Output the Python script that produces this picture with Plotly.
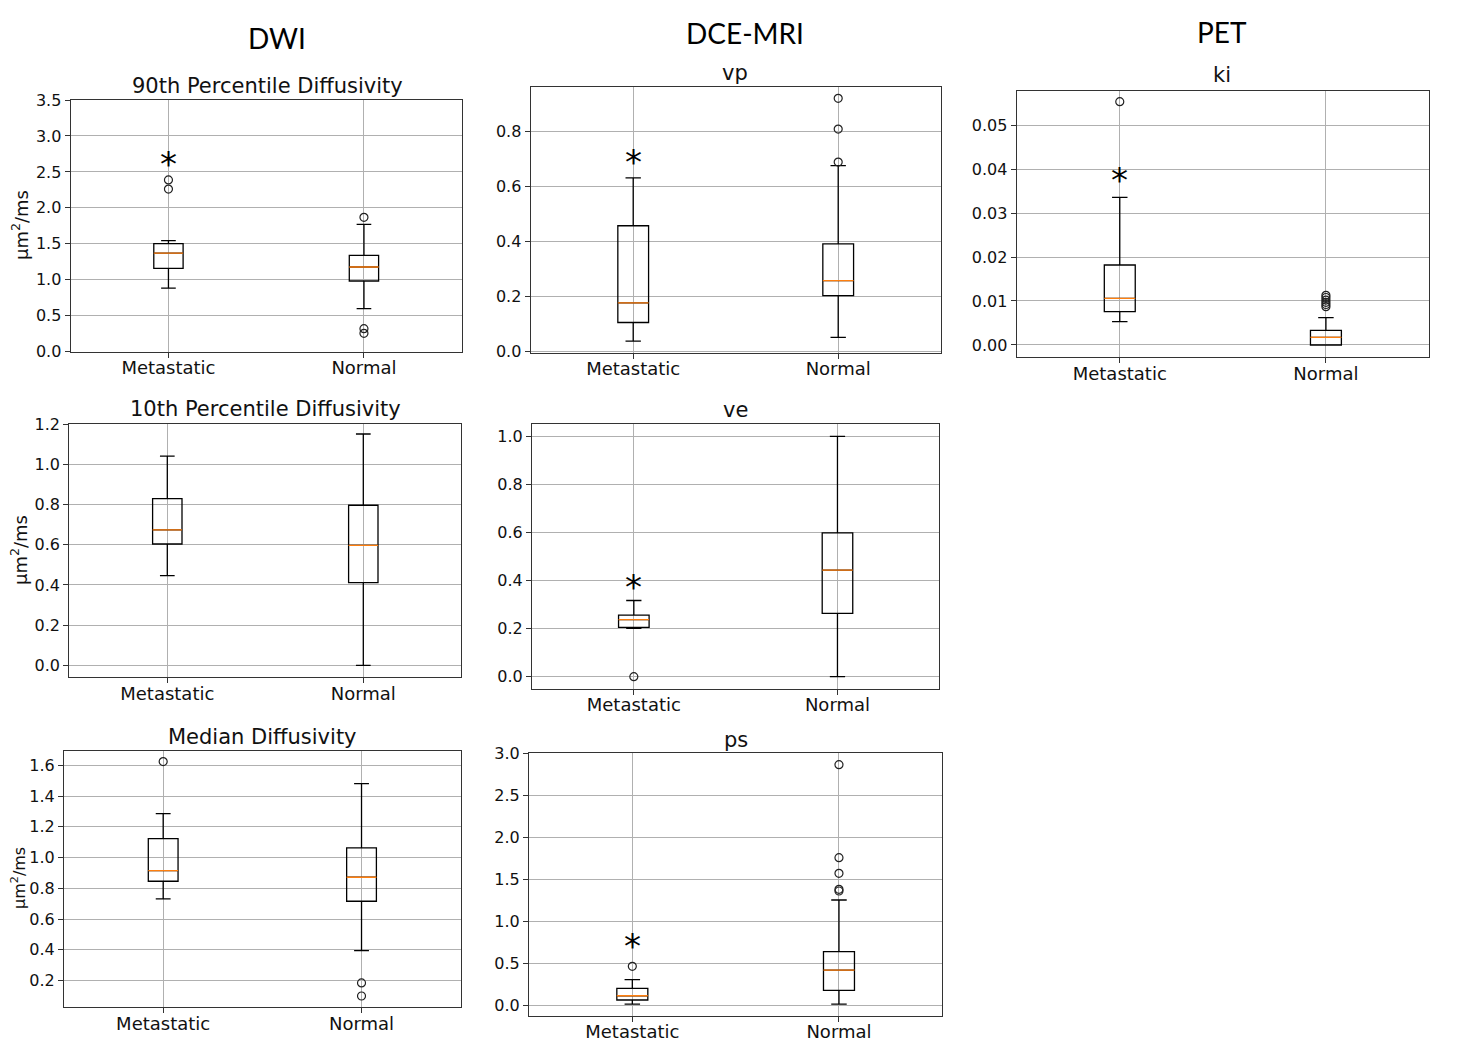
import plotly.graph_objects as go

# Reference picture size and the page's default body margin
REF_W, REF_H = 1481, 1059
OFF = 8
W, H = REF_W - OFF, REF_H - 2 * OFF

categories = ["Metastatic", "Normal"]
positions = [1, 2]

# ---- data ----
p90_lower = [0.885, 0.598]
p90_q1 = [1.159, 0.983]
p90_median = [1.372, 1.178]
p90_q3 = [1.502, 1.340]
p90_upper = [1.544, 1.771]
p90_out_met = [2.262, 2.388]
p90_out_nor = [1.868, 0.320, 0.255]
p90_star = 2.70

p10_lower = [0.4465, 0.0]
p10_q1 = [0.604, 0.4116]
p10_median = [0.674, 0.5975]
p10_q3 = [0.830, 0.797]
p10_upper = [1.042, 1.152]
p10_out_met = []
p10_out_nor = []
p10_star = None

med_lower = [0.731, 0.395]
med_q1 = [0.846, 0.716]
med_median = [0.915, 0.872]
med_q3 = [1.123, 1.063]
med_upper = [1.286, 1.481]
med_out_met = [1.624]
med_out_nor = [0.185, 0.100]
med_star = None

vp_lower = [0.036, 0.050]
vp_q1 = [0.104, 0.2015]
vp_median = [0.175, 0.256]
vp_q3 = [0.456, 0.390]
vp_upper = [0.630, 0.675]
vp_out_met = []
vp_out_nor = [0.688, 0.808, 0.920]
vp_star = 0.711

ve_lower = [0.2008, 0.0]
ve_q1 = [0.205, 0.263]
ve_median = [0.237, 0.443]
ve_q3 = [0.256, 0.598]
ve_upper = [0.317, 1.0]
ve_out_met = [0.0]
ve_out_nor = []
ve_star = 0.40

ps_lower = [0.012, 0.012]
ps_q1 = [0.060, 0.175]
ps_median = [0.111, 0.417]
ps_q3 = [0.199, 0.636]
ps_upper = [0.302, 1.252]
ps_out_met = [0.461]
ps_out_nor = [1.359, 1.379, 1.570, 1.756, 2.865]
ps_star = 0.78

ki_lower = [0.0053, 0.0]
ki_q1 = [0.00758, 0.0]
ki_median = [0.0106, 0.00174]
ki_q3 = [0.01818, 0.00333]
ki_upper = [0.03356, 0.00621]
ki_out_met = [0.0553]
ki_out_nor = [0.0087, 0.0092, 0.0097, 0.0102, 0.0108, 0.0113]
ki_star = 0.0388

# ---- panel layout (reference pixel boxes: left, top, right, bottom) ----
panels = [
    dict(title="90th Percentile Diffusivity", box=(70.7, 100, 461.7, 351.7), yr=[0, 3.5], dtick=0.5, fmt=".1f",
         tick0=0, stats=(p90_lower, p90_q1, p90_median, p90_q3, p90_upper), out=(p90_out_met, p90_out_nor),
         star=p90_star, ylab=(20, 225, 18), tpos=(267, 86)),
    dict(title="10th Percentile Diffusivity", box=(69.3, 424, 461.3, 677.3), yr=[-0.0598, 1.2017], dtick=0.2, fmt=".1f",
         tick0=0, stats=(p10_lower, p10_q1, p10_median, p10_q3, p10_upper), out=(p10_out_met, p10_out_nor),
         star=p10_star, ylab=(19, 550, 18), tpos=(265, 409)),
    dict(title="Median Diffusivity", box=(64, 751, 460.7, 1007.3), yr=[0.0266, 1.693], dtick=0.2, fmt=".1f",
         tick0=0.2, stats=(med_lower, med_q1, med_median, med_q3, med_upper), out=(med_out_met, med_out_nor),
         star=med_star, ylab=(18, 878, 16), tpos=(262, 737)),
    dict(title="vp", box=(530.7, 87.3, 940.7, 352.7), yr=[-0.006, 0.96], dtick=0.2, fmt=".1f",
         tick0=0, stats=(vp_lower, vp_q1, vp_median, vp_q3, vp_upper), out=(vp_out_met, vp_out_nor),
         star=vp_star, ylab=None, tpos=(735, 73)),
    dict(title="ve", box=(532, 424.3, 939.3, 688.7), yr=[-0.05, 1.05], dtick=0.2, fmt=".1f",
         tick0=0, stats=(ve_lower, ve_q1, ve_median, ve_q3, ve_upper), out=(ve_out_met, ve_out_nor),
         star=ve_star, ylab=None, tpos=(735, 410)),
    dict(title="ps", box=(529, 753.3, 942.3, 1015.7), yr=[-0.127, 3.0], dtick=0.5, fmt=".1f",
         tick0=0, stats=(ps_lower, ps_q1, ps_median, ps_q3, ps_upper), out=(ps_out_met, ps_out_nor),
         star=ps_star, ylab=None, tpos=(736, 740)),
    dict(title="ki", box=(1016.7, 90.7, 1429, 357), yr=[-0.00273, 0.0578], dtick=0.01, fmt=".2f",
         tick0=0, stats=(ki_lower, ki_q1, ki_median, ki_q3, ki_upper), out=(ki_out_met, ki_out_nor),
         star=ki_star, ylab=None, tpos=(1222, 75)),
]

headers = [("DWI", 277, 38), ("DCE-MRI", 745, 33), ("PET", 1222, 32)]


def fx(px):
    return (px - OFF) / W


def fy(py):
    return 1 - (py - OFF) / H


FONT = "DejaVu Sans"
BOXW = 0.15
fig = go.Figure()
annotations = []
layout = {}

for i, p in enumerate(panels, start=1):
    xa = "x" if i == 1 else f"x{i}"
    ya = "y" if i == 1 else f"y{i}"
    lo, q1, md, q3, up = p["stats"]
    for k, pos in enumerate(positions):
        fig.add_trace(go.Box(
            x=[pos], q1=[q1[k]], median=[md[k]], q3=[q3[k]],
            lowerfence=[lo[k]], upperfence=[up[k]],
            width=BOXW, whiskerwidth=0.5, boxpoints=False,
            line=dict(color="black", width=1.3), fillcolor="rgba(255,255,255,0)",
            xaxis=xa, yaxis=ya, showlegend=False, hoverinfo="skip"))
        fig.add_trace(go.Scatter(
            x=[pos - BOXW / 2, pos + BOXW / 2], y=[md[k], md[k]], mode="lines",
            line=dict(color="#ff7f0e", width=1.3), xaxis=xa, yaxis=ya,
            showlegend=False, hoverinfo="skip"))
        outs = p["out"][k]
        if outs:
            fig.add_trace(go.Scatter(
                x=[pos] * len(outs), y=outs, mode="markers",
                marker=dict(symbol="circle-open", size=8, color="#222", line=dict(width=1.2)),
                xaxis=xa, yaxis=ya, showlegend=False, hoverinfo="skip"))
    l, t, r, b = p["box"]
    key = "" if i == 1 else str(i)
    layout["xaxis" + key] = dict(
        domain=[fx(l), fx(r)], anchor=ya, range=[0.5, 2.5], automargin=False,
        tickvals=positions, ticktext=categories, tickfont=dict(size=18, family=FONT, color="#111"),
        ticklabelstandoff=-5,
        showgrid=True, gridcolor="#b0b0b0", gridwidth=1, zeroline=False,
        showline=True, mirror=True, linecolor="#333", linewidth=1.2,
        ticks="outside", ticklen=5, tickcolor="#333")
    layout["yaxis" + key] = dict(
        domain=[fy(b), fy(t)], anchor=xa, range=p["yr"], automargin=False,
        tick0=p["tick0"], dtick=p["dtick"], tickformat=p["fmt"],
        tickfont=dict(size=16, family=FONT, color="#111"),
        showgrid=True, gridcolor="#b0b0b0", gridwidth=1, zeroline=False,
        showline=True, mirror=True, linecolor="#333", linewidth=1.2,
        ticks="outside", ticklen=5, tickcolor="#333")
    annotations.append(dict(text=p["title"], x=fx(p["tpos"][0]), y=fy(p["tpos"][1]),
                            xref="paper", yref="paper", showarrow=False,
                            xanchor="center", yanchor="middle",
                            font=dict(size=21, family=FONT, color="#111")))
    if p["ylab"]:
        annotations.append(dict(text="µm<sup>2</sup>/ms", x=fx(p["ylab"][0]), y=fy(p["ylab"][1]),
                                xref="paper", yref="paper", showarrow=False, textangle=-90,
                                xanchor="center", yanchor="middle",
                                font=dict(size=p["ylab"][2], family=FONT, color="#111")))
    if p["star"] is not None:
        annotations.append(dict(text="*", x=positions[0], y=p["star"], xref=xa, yref=ya,
                                showarrow=False, xanchor="center", yanchor="middle", yshift=-6,
                                font=dict(size=34, family=FONT, color="black")))

for txt, hx, hy in headers:
    annotations.append(dict(text=txt, x=fx(hx), y=fy(hy), xref="paper", yref="paper",
                            showarrow=False, xanchor="center", yanchor="middle",
                            font=dict(size=28, family="Lato", color="black")))

fig.update_layout(width=W, height=H, margin=dict(l=0, r=0, t=0, b=0, autoexpand=False),
                  paper_bgcolor="white", plot_bgcolor="white", showlegend=False,
                  annotations=annotations, **layout)

fig.write_html("out.html")
